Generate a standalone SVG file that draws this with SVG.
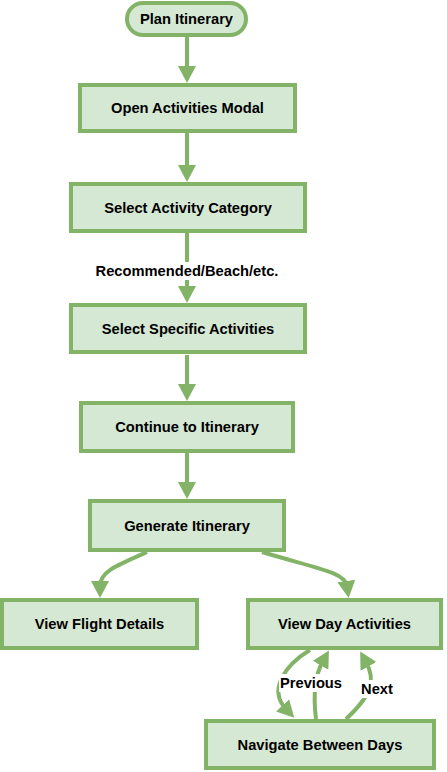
<svg xmlns="http://www.w3.org/2000/svg" width="447" height="772" viewBox="0 0 447 772">
<defs>
<style>
.node{fill:#d5e8d4;stroke:#82b366;stroke-width:4}
.lbl{font-family:"Liberation Sans",Arial,sans-serif;font-weight:bold;font-size:14.7px;fill:#000;text-anchor:middle}
.edge{fill:none;stroke:#82b366;stroke-width:4}
.bg{fill:#fff}
</style>
<marker id="ah" markerUnits="userSpaceOnUse" markerWidth="18" markerHeight="18" refX="5" refY="9" orient="auto">
<path d="M0,0 L17,9 L0,18 z" fill="#82b366"/>
</marker>
</defs>
<rect width="447" height="772" fill="#fff"/>
<g id="connectors">
<path class="edge" d="M187,37 V71" marker-end="url(#ah)"/>
<path class="edge" d="M187,133 V170" marker-end="url(#ah)"/>
<path class="edge" d="M187,233 V291" marker-end="url(#ah)"/>
<path class="edge" d="M187,355 V389" marker-end="url(#ah)"/>
<path class="edge" d="M187,453 V487" marker-end="url(#ah)"/>
<path class="edge" d="M147,552 C115,566 100,572 100,586" marker-end="url(#ah)"/>
<path class="edge" d="M262,552 C315,568 345,572 347,586" marker-end="url(#ah)"/>
<path class="edge" d="M310,650 C285,665 268,690 286,709" marker-end="url(#ah)"/>
<path class="edge" d="M316,719 C313,695 315,675 323,661" marker-end="url(#ah)"/>
<path class="edge" d="M346,719 C372,695 376,680 366,662" marker-end="url(#ah)"/>
<rect class="bg" x="93" y="262" width="188" height="18"/>
<text class="lbl" x="187" y="276">Recommended/Beach/etc.</text>
<rect class="bg" x="279" y="674" width="65" height="18"/>
<text class="lbl" x="311" y="688">Previous</text>
<rect class="bg" x="359" y="680" width="36" height="18"/>
<text class="lbl" x="377" y="694">Next</text>
</g>
<g id="plan"><rect class="node" x="127" y="3" width="119" height="32" rx="16"/><text class="lbl" x="186.5" y="24">Plan Itinerary</text></g>
<g id="open"><rect class="node" x="80" y="85" width="215" height="46"/><text class="lbl" x="187.5" y="113">Open Activities Modal</text></g>
<g id="selcat"><rect class="node" x="71" y="184" width="234" height="47"/><text class="lbl" x="188" y="213">Select Activity Category</text></g>
<g id="selspec"><rect class="node" x="71" y="305" width="234" height="47"/><text class="lbl" x="188" y="334">Select Specific Activities</text></g>
<g id="continue"><rect class="node" x="81" y="403" width="212" height="48"/><text class="lbl" x="187" y="432">Continue to Itinerary</text></g>
<g id="generate"><rect class="node" x="90" y="501" width="194" height="49"/><text class="lbl" x="187" y="530.5">Generate Itinerary</text></g>
<g id="flight"><rect class="node" x="2" y="600" width="195" height="48"/><text class="lbl" x="99.5" y="629">View Flight Details</text></g>
<g id="day"><rect class="node" x="248" y="600" width="193" height="48"/><text class="lbl" x="344.5" y="629">View Day Activities</text></g>
<g id="navigate"><rect class="node" x="206" y="721" width="228" height="47"/><text class="lbl" x="320" y="749.5">Navigate Between Days</text></g>
</svg>
